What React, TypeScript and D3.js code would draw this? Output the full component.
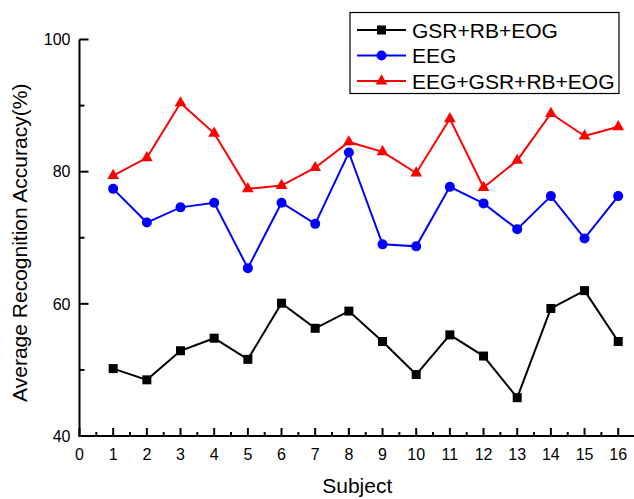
import React from "react";
import * as d3 from "d3";

// Subjects 1..16
const subjects = d3.range(1, 17);

// Accuracy (%) per subject
const gsrRbEog = [50.2, 48.5, 52.9, 54.8, 51.6, 60.1, 56.3, 58.9, 54.3, 49.3, 55.3, 52.1, 45.8, 59.3, 62.0, 54.3];
const eeg = [77.4, 72.3, 74.6, 75.3, 65.4, 75.3, 72.1, 82.9, 69.0, 68.7, 77.7, 75.2, 71.3, 76.3, 69.9, 76.3];
const eegGsrRbEog = [79.4, 82.1, 90.4, 85.8, 77.4, 77.9, 80.6, 84.5, 83.0, 79.8, 88.0, 77.6, 81.7, 88.8, 85.4, 86.8];

const xTicks = d3.range(0, 17);
const yTicks = [40, 60, 80, 100];
const yMinor = [50, 70, 90];

const seriesNames = ["GSR+RB+EOG", "EEG", "EEG+GSR+RB+EOG"];
const seriesColors = ["#000000", "#0000ff", "#ff0000"];
const seriesShapes = ["square", "circle", "triangle"];
const seriesValues = [gsrRbEog, eeg, eegGsrRbEog];

const W = 634;
const H = 499;
const margin = { left: 79.5, top: 39.5, right: 0, bottom: 63 };
const font = "'Liberation Sans', Arial, sans-serif";

const Marker = ({ shape, x, y, color }: { shape: string; x: number; y: number; color: string }) => {
  if (shape === "square") return <rect x={x - 4.5} y={y - 4.5} width={9} height={9} fill={color} />;
  if (shape === "circle") return <circle cx={x} cy={y} r={5} fill={color} />;
  const sym = d3.symbol().type(d3.symbolTriangle).size(60)();
  return <path d={sym ?? ""} transform={`translate(${x},${y})`} fill={color} />;
};

export default function App() {
  const x = d3.scaleLinear().domain([0, 16.5]).range([margin.left, margin.left + 16.5 * 33.67]);
  const y = d3.scaleLinear().domain([40, 100]).range([H - margin.bottom, margin.top]);
  const line = d3
    .line<number>()
    .x((_, i) => x(subjects[i]))
    .y((d) => y(d));

  const x0 = x(0);
  const yBase = y(40);

  return (
    <svg width={W} height={H} style={{ position: "absolute", left: 0, top: 0, background: "#fff" }}>
      <rect width={W} height={H} fill="#fff" />
      {/* y axis */}
      <line x1={x0} x2={x0} y1={y(100)} y2={yBase} stroke="#000" strokeWidth={2} />
      {yTicks.map((t) => (
        <g key={t}>
          <line x1={x0} x2={x0 + 9} y1={y(t)} y2={y(t)} stroke="#000" strokeWidth={2} />
          <text x={x0 - 9} y={y(t)} dy="0.36em" textAnchor="end" fontSize={16} fontFamily={font}>
            {t}
          </text>
        </g>
      ))}
      {yMinor.map((t) => (
        <line key={t} x1={x0} x2={x0 + 5} y1={y(t)} y2={y(t)} stroke="#000" strokeWidth={2} />
      ))}
      {/* x axis */}
      <line x1={x0 - 1} x2={W} y1={yBase} y2={yBase} stroke="#000" strokeWidth={2} />
      {xTicks.map((t) => (
        <g key={t}>
          <line x1={x(t)} x2={x(t)} y1={yBase} y2={yBase - 8} stroke="#000" strokeWidth={2} />
          <line x1={x(t + 0.5)} x2={x(t + 0.5)} y1={yBase} y2={yBase - 4} stroke="#000" strokeWidth={2} />
          <text x={x(t)} y={yBase + 24} textAnchor="middle" fontSize={16} fontFamily={font}>
            {t}
          </text>
        </g>
      ))}
      {/* axis titles */}
      <text x={x(8.25)} y={493} textAnchor="middle" fontSize={21} fontFamily={font}>
        Subject
      </text>
      <text
        transform={`translate(27,${(y(100) + yBase) / 2 + 5}) rotate(-90)`}
        textAnchor="middle"
        fontSize={21}
        fontFamily={font}
      >
        Average Recognition Accuracy(%)
      </text>
      {/* series */}
      {seriesValues.map((vals, si) => (
        <g key={si}>
          <path d={line(vals) ?? ""} fill="none" stroke={seriesColors[si]} strokeWidth={2} />
          {vals.map((v, i) => (
            <Marker key={i} shape={seriesShapes[si]} x={x(subjects[i])} y={y(v)} color={seriesColors[si]} />
          ))}
        </g>
      ))}
      {/* legend */}
      <rect x={350} y={12.5} width={269} height={81} fill="#fff" stroke="#000" strokeWidth={1.2} />
      {seriesNames.map((name, i) => {
        const ly = 30 + i * 25.5;
        return (
          <g key={name}>
            <line x1={357} x2={406} y1={ly} y2={ly} stroke={seriesColors[i]} strokeWidth={2} />
            <Marker shape={seriesShapes[i]} x={381.5} y={ly} color={seriesColors[i]} />
            <text x={412} y={ly} dy="0.36em" fontSize={21} fontFamily={font}>
              {name}
            </text>
          </g>
        );
      })}
    </svg>
  );
}
